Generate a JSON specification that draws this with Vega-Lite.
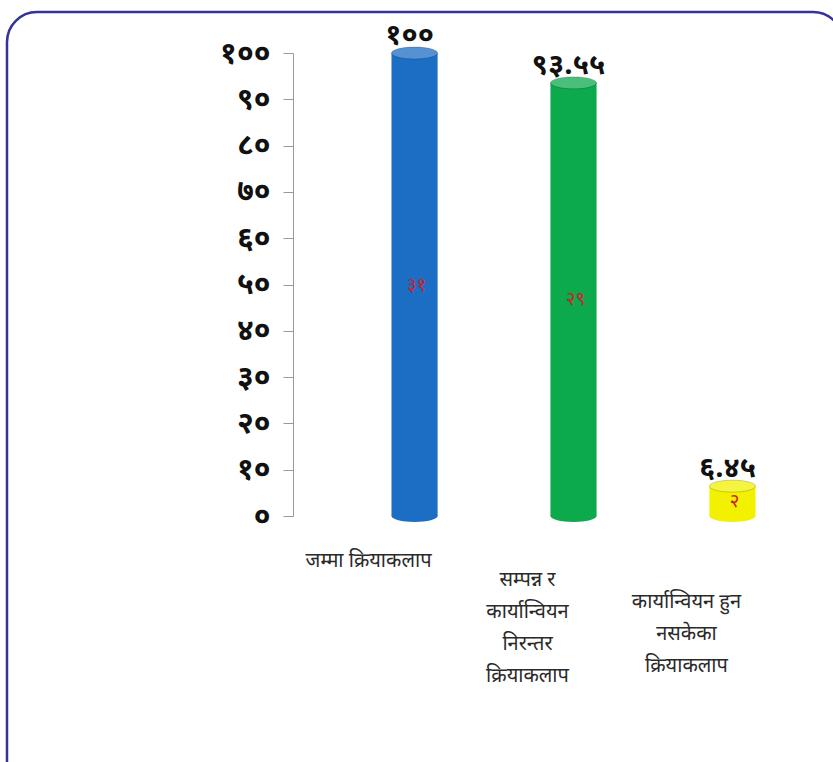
{
  "$schema": "https://vega.github.io/schema/vega-lite/v6.json",
  "width": 836,
  "height": 790,
  "autosize": {"type": "none"},
  "padding": {"left": 7, "top": 12, "right": 0, "bottom": 0},
  "background": "white",
  "config": {
    "view": {"stroke": "#33339a", "strokeWidth": 2.5, "cornerRadius": 30, "fill": "white"},
    "font": "Noto Sans Devanagari, Noto Sans, sans-serif"
  },
  "data": {
    "values": [
      {"category": "जम्मा क्रियाकलाप", "value": 100, "label": "१००", "count": "३१"},
      {"category": "सम्पन्न र कार्यान्वियन निरन्तर क्रियाकलाप", "value": 93.55, "label": "९३.५५", "count": "२९"},
      {"category": "कार्यान्वियन हुन नसकेका क्रियाकलाप", "value": 6.45, "label": "६.४५", "count": "२"}
    ]
  },
  "encoding": {
    "x": {
      "field": "category",
      "type": "nominal",
      "sort": null,
      "scale": {"range": [305, 828], "paddingInner": 0.7098, "paddingOuter": 0.5, "align": 0.5},
      "axis": {
        "title": null,
        "domain": false,
        "ticks": false,
        "labelAngle": 0,
        "labelAlign": "center",
        "labelBaseline": "top",
        "labelFontSize": 20,
        "labelLineHeight": 32,
        "labelColor": "#2a2a2a",
        "labelOffset": -46,
        "labelLimit": 300,
        "labelPadding": {
          "condition": [
            {"test": "datum.value === 'जम्मा क्रियाकलाप'", "value": 34},
            {"test": "datum.value === 'सम्पन्न र कार्यान्वियन निरन्तर क्रियाकलाप'", "value": 53}
          ],
          "value": 75
        },
        "labelExpr": "datum.value === 'जम्मा क्रियाकलाप' ? 'जम्मा क्रियाकलाप' : (datum.value === 'सम्पन्न र कार्यान्वियन निरन्तर क्रियाकलाप' ? ['सम्पन्न र', 'कार्यान्वियन', 'निरन्तर', 'क्रियाकलाप'] : ['कार्यान्वियन हुन', 'नसकेका', 'क्रियाकलाप'])",
        "offset": -286
      }
    }
  },
  "layer": [
    {
      "encoding": {
        "y": {
          "field": "value",
          "type": "quantitative",
          "scale": {"domain": [0, 100], "range": [504, 41], "nice": false},
          "axis": {
            "title": null,
            "grid": false,
            "values": [0, 10, 20, 30, 40, 50, 60, 70, 80, 90, 100],
            "labelExpr": "['०','१०','२०','३०','४०','५०','६०','७०','८०','९०','१००'][round(datum.value / 10)]",
            "domainColor": "#9a9a9a",
            "tickColor": "#9a9a9a",
            "tickSize": 10,
            "labelPadding": 13,
            "labelFontSize": 30,
            "labelFontWeight": "bold",
            "labelColor": "#111111",
            "offset": -286
          }
        },
        "color": {
          "field": "category",
          "type": "nominal",
          "sort": null,
          "scale": {
            "domain": ["जम्मा क्रियाकलाप", "सम्पन्न र कार्यान्वियन निरन्तर क्रियाकलाप", "कार्यान्वियन हुन नसकेका क्रियाकलाप"],
            "range": ["#1b6ec4", "#0caa4c", "#f2f200"]
          },
          "legend": null
        }
      },
      "layer": [
        {
          "mark": {"type": "point", "filled": true, "opacity": 1, "size": 2116, "shape": "M -1 0 A 1 0.26 0 1 1 1 0 A 1 0.26 0 1 1 -1 0 Z"},
          "encoding": {"y": {"datum": 0}}
        },
        {
          "mark": {
            "type": "point", "filled": true, "opacity": 1, "size": 2116,
            "shape": "M -1 0 A 1 0.26 0 1 1 1 0 A 1 0.26 0 1 1 -1 0 Z",
            "color": {"gradient": "linear", "x1": 0, "x2": 1, "y1": 0, "y2": 0,
              "stops": [
                {"offset": 0, "color": "rgba(0,0,0,0.35)"},
                {"offset": 0.35, "color": "rgba(255,255,255,0.18)"},
                {"offset": 0.55, "color": "rgba(255,255,255,0.04)"},
                {"offset": 1, "color": "rgba(0,0,0,0.38)"}
              ]}
          },
          "encoding": {"y": {"datum": 0}, "color": {"value": null}}
        },
        {"mark": {"type": "bar"}},
        {
          "mark": {
            "type": "bar",
            "color": {"gradient": "linear", "x1": 0, "x2": 1, "y1": 0, "y2": 0,
              "stops": [
                {"offset": 0, "color": "rgba(0,0,0,0.35)"},
                {"offset": 0.35, "color": "rgba(255,255,255,0.18)"},
                {"offset": 0.55, "color": "rgba(255,255,255,0.04)"},
                {"offset": 1, "color": "rgba(0,0,0,0.38)"}
              ]}
          },
          "encoding": {"color": {"value": null}}
        },
        {
          "mark": {"type": "point", "filled": true, "opacity": 1, "size": 2116, "shape": "M -1 0 A 1 0.26 0 1 1 1 0 A 1 0.26 0 1 1 -1 0 Z"}
        },
        {
          "mark": {"type": "point", "filled": true, "size": 2116, "shape": "M -1 0 A 1 0.26 0 1 1 1 0 A 1 0.26 0 1 1 -1 0 Z", "fill": "white", "fillOpacity": 0.25, "stroke": "rgba(0,0,0,0.18)", "strokeWidth": 1},
          "encoding": {"color": {"value": null}}
        },
        {
          "mark": {"type": "text", "fontSize": 29, "fontWeight": "bold", "color": "#111111", "baseline": "alphabetic", "dy": -9, "dx": -5},
          "encoding": {"text": {"field": "label"}, "color": {"value": "#111111"}}
        }
      ]
    },
    {
      "mark": {"type": "text", "fontSize": 19, "color": "#d0202a", "dx": 2},
      "encoding": {
        "y": {"field": "value", "type": "quantitative", "scale": {"domain": [0, 200], "range": [504, 41], "nice": false}, "axis": null},
        "text": {"field": "count"}
      }
    }
  ],
  "resolve": {"scale": {"y": "independent"}}
}
